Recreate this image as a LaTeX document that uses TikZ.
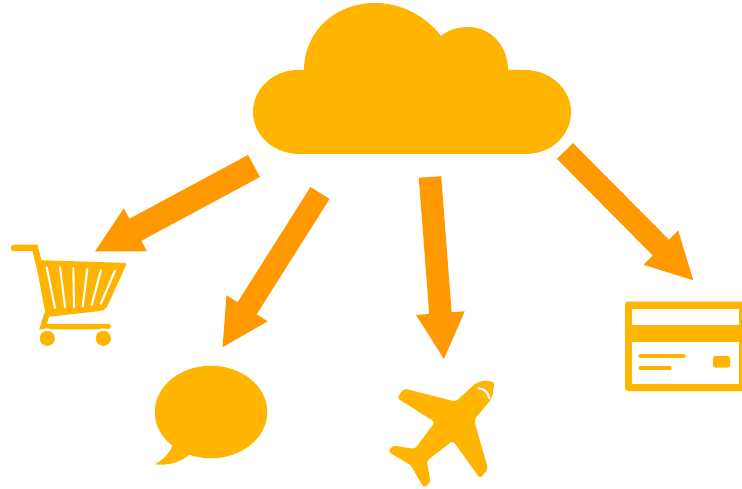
\documentclass[tikz,border=0pt]{standalone}
\usepackage{xcolor}
\usetikzlibrary{arrows.meta, shapes.geometric}
\definecolor{iconfill}{HTML}{FFB400}
\definecolor{arrowfill}{HTML}{FF9900}
\begin{document}
\begin{tikzpicture}[
    x=1pt, y=-1pt,
    icon/.style={fill=iconfill, draw=none},
    iconline/.style={draw=iconfill, line cap=round},
    cutline/.style={draw=white, line cap=round},
    flow/.style={draw=arrowfill, line width=22.5pt, -{Triangle[length=47pt, width=45pt, fill=arrowfill]}}
]
\useasboundingbox (0,0) rectangle (742,489);

% Cloud
\fill[icon] (300,154) -- (525,154) .. controls (552,154) and (571,135) .. (571,112)
    .. controls (571,89) and (550,70) .. (525,70) -- (508,70)
    .. controls (508,45) and (490,27) .. (468,27) .. controls (458,27) and (448,30) .. (441,36)
    .. controls (425,15) and (400,3) .. (375,3) .. controls (335,3) and (304,32) .. (304,70)
    -- (298,70) .. controls (273,70) and (253,89) .. (253,112)
    .. controls (253,135) and (273,154) .. (300,154) -- cycle;

% Cart
\draw[iconline, line width=6.5pt] (14,248) -- (35,248) -- (41,272);
\fill[icon, rounded corners=2pt] (35.5,260) -- (127,263) -- (106,309) -- (100,311) -- (46,317) -- cycle;
\draw[iconline, line width=5.5pt] (47,314) -- (43,326.5) -- (108,326.5);
\foreach \xa/\ya/\xb/\yb in {46.7/267.3/55/308, 60/267/65/307, 73.3/268/74/307, 87.3/269/82.7/306.7, 101/270/91.7/305, 115/270.7/100.7/304}
    \draw[cutline, line width=2.1pt] (\xa,\ya) -- (\xb,\yb);
\foreach \xa in {47.3, 103.3} {
    \fill[white] (\xa,338.3) circle (10pt);
    \fill[icon] (\xa,338.3) circle (7.5pt);
}

% Speech bubble
\node[ellipse, icon, minimum width=112.5pt, minimum height=92.5pt, inner sep=0pt] (bubble) at (211,412) {};
\fill[icon] (172,440) -- (172.3,445.7) .. controls (170,453) and (163,460) .. (155,464.3)
    .. controls (168,466) and (180,462) .. (189,455) -- (195,445) -- cycle;

% Plane
\fill[icon, rounded corners=3pt] (476,383) -- (484,380.5) -- (494.5,382) -- (492,398) -- (474,420) -- (488,469) -- (480,478.5)
    -- (453,440.7) -- (426.7,460.7) -- (430.5,482) -- (424,488) -- (410.7,465) -- (388,451.7) -- (393,445.5)
    -- (415,449) -- (435,422) -- (397,398) -- (404,388.5) -- (455.7,401.7) -- cycle;
\draw[cutline, line width=2.2pt] (478.3,388.3) .. controls (484,388.5) and (488,392) .. (489.3,398.3);

% Card
\fill[icon, rounded corners=3pt] (625,301.5) rectangle (745,391);
\fill[white] (631.5,309) rectangle (739,324.7);
\fill[white] (631.5,341.7) rectangle (739,384);
\draw[iconline, line width=3.2pt] (640,356) -- (684,356);
\draw[iconline, line width=3.2pt] (640,368) -- (670,368);
\fill[icon, rounded corners=2.5pt] (713,356) rectangle (730,367.7);

% Ends of the arrows
\coordinate (cloudcart) at (254,166);
\coordinate (cloudbubble) at (320,193);
\coordinate (cloudplane) at (430,177);
\coordinate (cloudcard) at (565,151);
\coordinate (cartend) at (94,252);
\coordinate (bubbleend) at (222,348);
\coordinate (planeend) at (444,360);
\coordinate (cardend) at (694,281);

% Arrows
\draw[flow, line width=25pt] (cloudcart) -- (cartend);
\draw[flow] (cloudbubble) -- (bubbleend);
\draw[flow] (cloudplane) -- (planeend);
\draw[flow] (cloudcard) -- (cardend);

\end{tikzpicture}
\end{document}
